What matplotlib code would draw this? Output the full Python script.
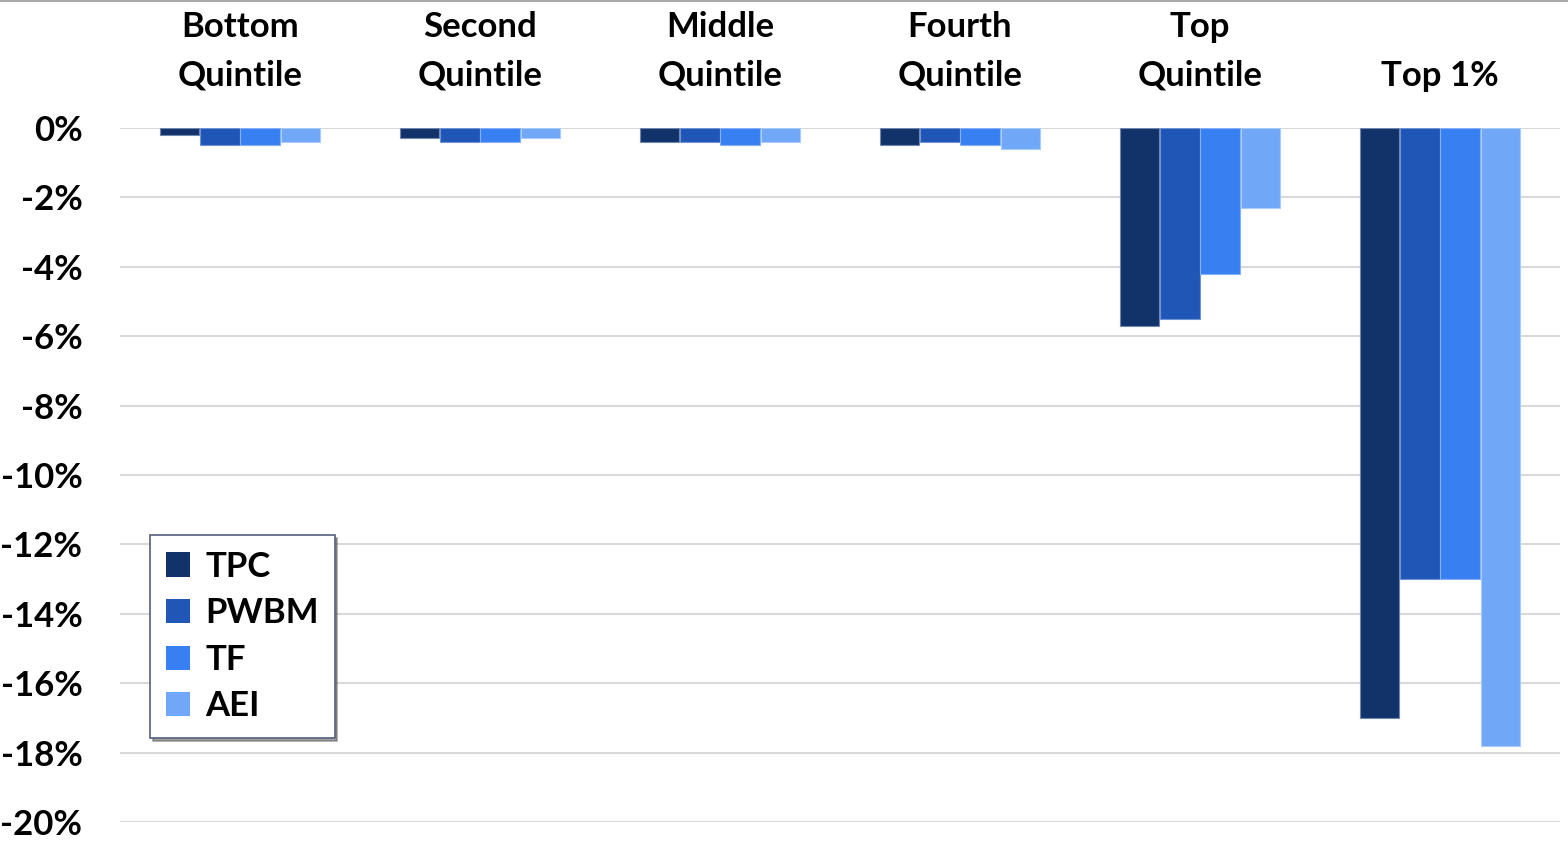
import matplotlib
matplotlib.use("Agg")
import matplotlib.pyplot as plt
import numpy as np

categories = ["Bottom\nQuintile", "Second\nQuintile", "Middle\nQuintile",
              "Fourth\nQuintile", "Top\nQuintile", "Top 1%"]
series_names = ["TPC", "PWBM", "TF", "AEI"]
tpc = [-0.2, -0.3, -0.4, -0.5, -5.7, -17.0]
pwbm = [-0.5, -0.4, -0.4, -0.4, -5.5, -13.0]
tf = [-0.5, -0.4, -0.5, -0.5, -4.2, -13.0]
aei = [-0.4, -0.3, -0.4, -0.6, -2.3, -17.8]
yticks = [0, -2, -4, -6, -8, -10, -12, -14, -16, -18, -20]

colors = ["#12336A", "#2057B6", "#3880F2", "#70A8F7"]
edges = ["#6F86AE", "#6F93D6", "#86B0F5", "#A9CBFA"]

plt.rcParams['font.family'] = ['Lato', 'DejaVu Sans']
plt.rcParams['font.weight'] = 'bold'

fig = plt.figure(figsize=(15.68, 8.43), dpi=100)
ax = fig.add_axes([120/1568, 21/843, 1440/1568, 694/843])

x = np.arange(len(categories))
w = 0.163
offsets = [-1.5, -0.5, 0.5, 1.5]
for i, (vals, name) in enumerate(zip([tpc, pwbm, tf, aei], series_names)):
    ax.bar(x + offsets[i] * (w + 0.004), vals, width=w, color=colors[i],
           edgecolor=edges[i], linewidth=0.8, label=name, zorder=3)

ax.set_xlim(-0.5, len(categories) - 0.5)
ax.set_ylim(-20, 0)
ax.set_yticks(yticks)
ax.set_yticklabels([f"{v}%" for v in yticks], fontsize=25, fontweight='bold')
ax.yaxis.grid(True, color="#D9D9D9", linewidth=1.5, zorder=0)
ax.set_axisbelow(True)
ax.tick_params(axis='y', length=0, pad=27)

ax.xaxis.tick_top()
ax.set_xticks(x)
ax.set_xticklabels(categories, fontsize=25, fontweight='bold', linespacing=1.66)
ax.tick_params(axis='x', length=0, pad=26)

for s in ax.spines.values():
    s.set_visible(False)

leg = ax.legend(loc='upper left', bbox_to_anchor=(0.0208, 0.4135),
                fontsize=25, frameon=True, fancybox=False, shadow=True,
                handlelength=0.7, handleheight=0.7, handletextpad=0.45,
                labelspacing=0.42, borderpad=0.45, borderaxespad=0)
leg.get_frame().set_edgecolor("#55607A")
leg.get_frame().set_linewidth(1.2)
for t in leg.get_texts():
    t.set_fontweight('bold')
for h in leg.legend_handles:
    h.set_linewidth(0)

fig.add_artist(plt.Line2D([0, 1], [0.999, 0.999], color="#AAAAAA", linewidth=1.5,
                          transform=fig.transFigure))

fig.savefig("out.png", dpi=100)
